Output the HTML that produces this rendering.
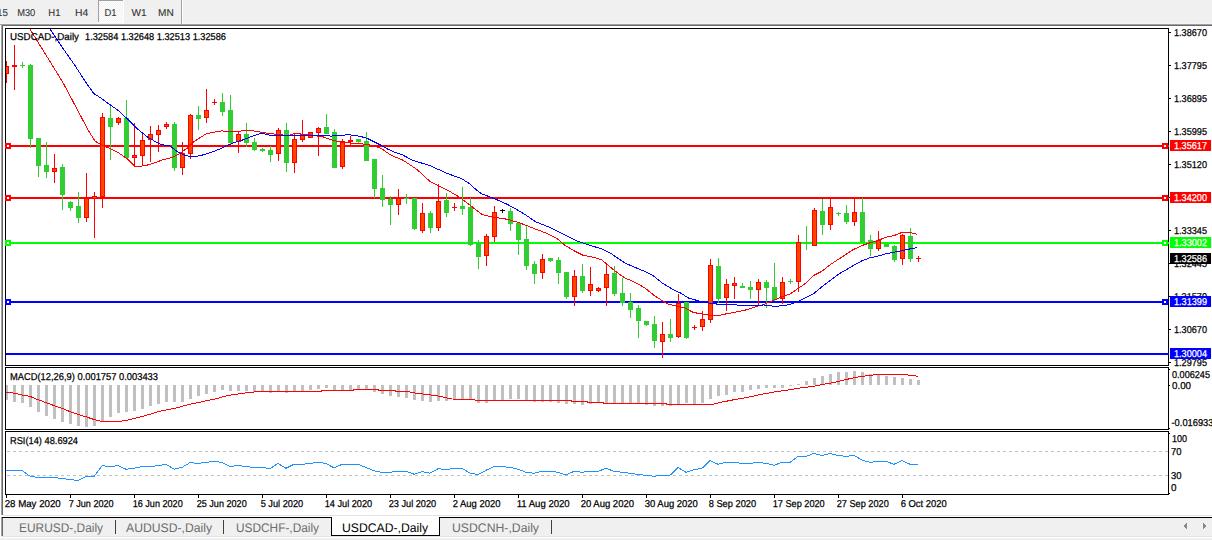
<!DOCTYPE html>
<html><head><meta charset="utf-8"><title>USDCAD Daily</title><style>
html,body{margin:0;padding:0;width:1212px;height:540px;overflow:hidden;background:#fff}
svg{display:block}
text{font-family:"Liberation Sans",sans-serif;text-rendering:geometricPrecision}
</style></head><body>
<svg width="1212" height="540" viewBox="0 0 1212 540" shape-rendering="crispEdges">
<rect x="0" y="0" width="1212" height="24" fill="#f0f0f0"/>
<rect x="0" y="23" width="1212" height="1" fill="#f4f4f4"/>
<rect x="0" y="24" width="1212" height="1" fill="#a0a0a0"/>
<rect x="1" y="25" width="1211" height="1" fill="#696969"/>
<rect x="181" y="0" width="1" height="24" fill="#a0a0a0"/>
<rect x="182" y="0" width="1" height="24" fill="#ffffff"/>
<defs><pattern id="dith" width="2" height="2" patternUnits="userSpaceOnUse"><rect width="2" height="2" fill="#f0f0f0"/><rect width="1" height="1" fill="#ffffff"/><rect x="1" y="1" width="1" height="1" fill="#ffffff"/></pattern></defs>
<rect x="99" y="1" width="24" height="21" fill="url(#dith)"/>
<rect x="98" y="0" width="25" height="1" fill="#a0a0a0"/>
<rect x="98" y="0" width="1" height="22" fill="#a0a0a0"/>
<rect x="123" y="0" width="1" height="23" fill="#ffffff"/>
<rect x="98" y="22" width="26" height="1" fill="#ffffff"/>
<text x="-3.0" y="16" font-size="10" fill="#333" textLength="10.9" lengthAdjust="spacingAndGlyphs" stroke="#333" stroke-width="0.1">15</text>
<text x="17.2" y="16" font-size="10" fill="#333" textLength="18.1" lengthAdjust="spacingAndGlyphs" stroke="#333" stroke-width="0.1">M30</text>
<text x="48.3" y="16" font-size="10" fill="#333" textLength="12.2" lengthAdjust="spacingAndGlyphs" stroke="#333" stroke-width="0.1">H1</text>
<text x="75.0" y="16" font-size="10" fill="#333" textLength="13.3" lengthAdjust="spacingAndGlyphs" stroke="#333" stroke-width="0.1">H4</text>
<text x="104.4" y="16" font-size="10" fill="#333" textLength="12.1" lengthAdjust="spacingAndGlyphs" stroke="#333" stroke-width="0.1">D1</text>
<text x="131.4" y="16" font-size="10" fill="#333" textLength="15.1" lengthAdjust="spacingAndGlyphs" stroke="#333" stroke-width="0.1">W1</text>
<text x="158.1" y="16" font-size="10" fill="#333" textLength="15.7" lengthAdjust="spacingAndGlyphs" stroke="#333" stroke-width="0.1">MN</text>
<rect x="0" y="25" width="1" height="490" fill="#ffffff"/>
<rect x="1" y="25" width="1" height="490" fill="#a0a0a0"/>
<rect x="2" y="26" width="1" height="489" fill="#696969"/>
<clipPath id="cm"><rect x="6" y="29" width="1162" height="336"/></clipPath>
<clipPath id="cmacd"><rect x="6" y="368" width="1162" height="61"/></clipPath>
<clipPath id="crsi"><rect x="6" y="432" width="1162" height="62"/></clipPath>
<g clip-path="url(#cm)">
<rect x="6" y="145" width="1162" height="2" fill="#ff0000"/>
<rect x="6" y="197" width="1162" height="2" fill="#ff0000"/>
<rect x="6" y="242" width="1162" height="2" fill="#00ff00"/>
<rect x="6" y="301" width="1162" height="2" fill="#0000ff"/>
<rect x="6" y="353" width="1162" height="2" fill="#0000ff"/>
</g>
<g clip-path="url(#cm)">
<rect x="6" y="61" width="1" height="22" fill="#ff0000"/>
<rect x="4" y="66" width="5" height="8" fill="#ff0000"/>
<rect x="5" y="67" width="3" height="6" fill="#ff4500"/>
<rect x="14" y="45" width="1" height="45" fill="#ff0000"/>
<rect x="12" y="65" width="5" height="2" fill="#ff0000"/>
<rect x="22" y="62" width="1" height="6" fill="#32cd32"/>
<rect x="20" y="65" width="5" height="1" fill="#32cd32"/>
<rect x="30" y="64" width="1" height="84" fill="#32cd32"/>
<rect x="28" y="65" width="5" height="74" fill="#32cd32"/>
<rect x="38" y="138" width="1" height="39" fill="#32cd32"/>
<rect x="36" y="138" width="5" height="28" fill="#32cd32"/>
<rect x="46" y="142" width="1" height="36" fill="#32cd32"/>
<rect x="44" y="165" width="5" height="7" fill="#32cd32"/>
<rect x="54" y="154" width="1" height="29" fill="#ff0000"/>
<rect x="52" y="168" width="5" height="4" fill="#ff0000"/>
<rect x="53" y="169" width="3" height="2" fill="#ff4500"/>
<rect x="62" y="164" width="1" height="46" fill="#32cd32"/>
<rect x="60" y="167" width="5" height="28" fill="#32cd32"/>
<rect x="70" y="201" width="1" height="10" fill="#32cd32"/>
<rect x="68" y="202" width="5" height="6" fill="#32cd32"/>
<rect x="78" y="192" width="1" height="31" fill="#32cd32"/>
<rect x="76" y="206" width="5" height="12" fill="#32cd32"/>
<rect x="86" y="173" width="1" height="49" fill="#ff0000"/>
<rect x="84" y="198" width="5" height="20" fill="#ff0000"/>
<rect x="85" y="199" width="3" height="18" fill="#ff4500"/>
<rect x="94" y="192" width="1" height="46" fill="#ff0000"/>
<rect x="92" y="196" width="5" height="3" fill="#ff0000"/>
<rect x="93" y="197" width="3" height="1" fill="#ff4500"/>
<rect x="102" y="113" width="1" height="95" fill="#ff0000"/>
<rect x="100" y="117" width="5" height="80" fill="#ff0000"/>
<rect x="101" y="118" width="3" height="78" fill="#ff4500"/>
<rect x="110" y="106" width="1" height="54" fill="#32cd32"/>
<rect x="108" y="118" width="5" height="9" fill="#32cd32"/>
<rect x="118" y="117" width="1" height="8" fill="#ff0000"/>
<rect x="116" y="118" width="5" height="5" fill="#ff0000"/>
<rect x="117" y="119" width="3" height="3" fill="#ff4500"/>
<rect x="126" y="100" width="1" height="59" fill="#32cd32"/>
<rect x="124" y="118" width="5" height="40" fill="#32cd32"/>
<rect x="134" y="123" width="1" height="44" fill="#ff0000"/>
<rect x="132" y="155" width="5" height="3" fill="#ff0000"/>
<rect x="133" y="156" width="3" height="1" fill="#ff4500"/>
<rect x="142" y="134" width="1" height="32" fill="#ff0000"/>
<rect x="140" y="140" width="5" height="16" fill="#ff0000"/>
<rect x="141" y="141" width="3" height="14" fill="#ff4500"/>
<rect x="150" y="126" width="1" height="36" fill="#ff0000"/>
<rect x="148" y="134" width="5" height="6" fill="#ff0000"/>
<rect x="149" y="135" width="3" height="4" fill="#ff4500"/>
<rect x="158" y="125" width="1" height="27" fill="#ff0000"/>
<rect x="156" y="130" width="5" height="5" fill="#ff0000"/>
<rect x="157" y="131" width="3" height="3" fill="#ff4500"/>
<rect x="166" y="122" width="1" height="7" fill="#ff0000"/>
<rect x="164" y="124" width="5" height="3" fill="#ff0000"/>
<rect x="165" y="125" width="3" height="1" fill="#ff4500"/>
<rect x="174" y="122" width="1" height="49" fill="#32cd32"/>
<rect x="172" y="124" width="5" height="44" fill="#32cd32"/>
<rect x="182" y="142" width="1" height="33" fill="#ff0000"/>
<rect x="180" y="153" width="5" height="15" fill="#ff0000"/>
<rect x="181" y="154" width="3" height="13" fill="#ff4500"/>
<rect x="190" y="114" width="1" height="45" fill="#ff0000"/>
<rect x="188" y="115" width="5" height="39" fill="#ff0000"/>
<rect x="189" y="116" width="3" height="37" fill="#ff4500"/>
<rect x="198" y="106" width="1" height="24" fill="#32cd32"/>
<rect x="196" y="115" width="5" height="4" fill="#32cd32"/>
<rect x="206" y="89" width="1" height="34" fill="#ff0000"/>
<rect x="204" y="110" width="5" height="8" fill="#ff0000"/>
<rect x="205" y="111" width="3" height="6" fill="#ff4500"/>
<rect x="214" y="99" width="1" height="6" fill="#ff0000"/>
<rect x="212" y="102" width="5" height="1" fill="#ff0000"/>
<rect x="222" y="93" width="1" height="23" fill="#32cd32"/>
<rect x="220" y="102" width="5" height="10" fill="#32cd32"/>
<rect x="230" y="95" width="1" height="50" fill="#32cd32"/>
<rect x="228" y="110" width="5" height="33" fill="#32cd32"/>
<rect x="238" y="132" width="1" height="21" fill="#ff0000"/>
<rect x="236" y="134" width="5" height="8" fill="#ff0000"/>
<rect x="237" y="135" width="3" height="6" fill="#ff4500"/>
<rect x="246" y="123" width="1" height="24" fill="#32cd32"/>
<rect x="244" y="134" width="5" height="9" fill="#32cd32"/>
<rect x="254" y="138" width="1" height="13" fill="#32cd32"/>
<rect x="252" y="142" width="5" height="8" fill="#32cd32"/>
<rect x="262" y="148" width="1" height="4" fill="#32cd32"/>
<rect x="260" y="149" width="5" height="2" fill="#32cd32"/>
<rect x="270" y="146" width="1" height="16" fill="#32cd32"/>
<rect x="268" y="150" width="5" height="5" fill="#32cd32"/>
<rect x="278" y="128" width="1" height="33" fill="#ff0000"/>
<rect x="276" y="130" width="5" height="24" fill="#ff0000"/>
<rect x="277" y="131" width="3" height="22" fill="#ff4500"/>
<rect x="286" y="123" width="1" height="49" fill="#32cd32"/>
<rect x="284" y="130" width="5" height="33" fill="#32cd32"/>
<rect x="294" y="134" width="1" height="39" fill="#ff0000"/>
<rect x="292" y="139" width="5" height="24" fill="#ff0000"/>
<rect x="293" y="140" width="3" height="22" fill="#ff4500"/>
<rect x="302" y="120" width="1" height="22" fill="#ff0000"/>
<rect x="300" y="134" width="5" height="6" fill="#ff0000"/>
<rect x="301" y="135" width="3" height="4" fill="#ff4500"/>
<rect x="310" y="132" width="1" height="6" fill="#ff0000"/>
<rect x="308" y="132" width="5" height="6" fill="#ff0000"/>
<rect x="309" y="133" width="3" height="4" fill="#ff4500"/>
<rect x="318" y="127" width="1" height="29" fill="#ff0000"/>
<rect x="316" y="128" width="5" height="5" fill="#ff0000"/>
<rect x="317" y="129" width="3" height="3" fill="#ff4500"/>
<rect x="326" y="114" width="1" height="20" fill="#32cd32"/>
<rect x="324" y="127" width="5" height="7" fill="#32cd32"/>
<rect x="334" y="129" width="1" height="39" fill="#32cd32"/>
<rect x="332" y="132" width="5" height="36" fill="#32cd32"/>
<rect x="342" y="139" width="1" height="30" fill="#ff0000"/>
<rect x="340" y="141" width="5" height="26" fill="#ff0000"/>
<rect x="341" y="142" width="3" height="24" fill="#ff4500"/>
<rect x="350" y="136" width="1" height="9" fill="#ff0000"/>
<rect x="348" y="140" width="5" height="2" fill="#ff0000"/>
<rect x="358" y="139" width="1" height="5" fill="#32cd32"/>
<rect x="356" y="139" width="5" height="3" fill="#32cd32"/>
<rect x="366" y="132" width="1" height="29" fill="#32cd32"/>
<rect x="364" y="141" width="5" height="20" fill="#32cd32"/>
<rect x="374" y="159" width="1" height="39" fill="#32cd32"/>
<rect x="372" y="159" width="5" height="30" fill="#32cd32"/>
<rect x="382" y="175" width="1" height="32" fill="#32cd32"/>
<rect x="380" y="188" width="5" height="12" fill="#32cd32"/>
<rect x="390" y="196" width="1" height="29" fill="#32cd32"/>
<rect x="388" y="199" width="5" height="6" fill="#32cd32"/>
<rect x="398" y="189" width="1" height="26" fill="#ff0000"/>
<rect x="396" y="198" width="5" height="7" fill="#ff0000"/>
<rect x="397" y="199" width="3" height="5" fill="#ff4500"/>
<rect x="406" y="194" width="1" height="10" fill="#32cd32"/>
<rect x="404" y="198" width="5" height="1" fill="#32cd32"/>
<rect x="414" y="198" width="1" height="32" fill="#32cd32"/>
<rect x="412" y="198" width="5" height="31" fill="#32cd32"/>
<rect x="422" y="203" width="1" height="30" fill="#ff0000"/>
<rect x="420" y="213" width="5" height="18" fill="#ff0000"/>
<rect x="421" y="214" width="3" height="16" fill="#ff4500"/>
<rect x="430" y="211" width="1" height="22" fill="#32cd32"/>
<rect x="428" y="213" width="5" height="15" fill="#32cd32"/>
<rect x="438" y="184" width="1" height="47" fill="#ff0000"/>
<rect x="436" y="201" width="5" height="27" fill="#ff0000"/>
<rect x="437" y="202" width="3" height="25" fill="#ff4500"/>
<rect x="446" y="193" width="1" height="24" fill="#32cd32"/>
<rect x="444" y="200" width="5" height="13" fill="#32cd32"/>
<rect x="454" y="203" width="1" height="8" fill="#ff0000"/>
<rect x="452" y="207" width="5" height="1" fill="#ff0000"/>
<rect x="462" y="187" width="1" height="28" fill="#32cd32"/>
<rect x="460" y="206" width="5" height="3" fill="#32cd32"/>
<rect x="470" y="198" width="1" height="48" fill="#32cd32"/>
<rect x="468" y="207" width="5" height="38" fill="#32cd32"/>
<rect x="478" y="240" width="1" height="29" fill="#32cd32"/>
<rect x="476" y="243" width="5" height="14" fill="#32cd32"/>
<rect x="486" y="234" width="1" height="32" fill="#ff0000"/>
<rect x="484" y="236" width="5" height="20" fill="#ff0000"/>
<rect x="485" y="237" width="3" height="18" fill="#ff4500"/>
<rect x="494" y="206" width="1" height="36" fill="#ff0000"/>
<rect x="492" y="212" width="5" height="25" fill="#ff0000"/>
<rect x="493" y="213" width="3" height="23" fill="#ff4500"/>
<rect x="502" y="209" width="1" height="4" fill="#000"/>
<rect x="500" y="210" width="5" height="1" fill="#000"/>
<rect x="510" y="208" width="1" height="23" fill="#32cd32"/>
<rect x="508" y="211" width="5" height="13" fill="#32cd32"/>
<rect x="518" y="222" width="1" height="33" fill="#32cd32"/>
<rect x="516" y="223" width="5" height="17" fill="#32cd32"/>
<rect x="526" y="225" width="1" height="45" fill="#32cd32"/>
<rect x="524" y="239" width="5" height="27" fill="#32cd32"/>
<rect x="534" y="261" width="1" height="23" fill="#32cd32"/>
<rect x="532" y="264" width="5" height="10" fill="#32cd32"/>
<rect x="542" y="254" width="1" height="25" fill="#ff0000"/>
<rect x="540" y="259" width="5" height="14" fill="#ff0000"/>
<rect x="541" y="260" width="3" height="12" fill="#ff4500"/>
<rect x="550" y="258" width="1" height="4" fill="#32cd32"/>
<rect x="548" y="258" width="5" height="3" fill="#32cd32"/>
<rect x="558" y="257" width="1" height="27" fill="#32cd32"/>
<rect x="556" y="260" width="5" height="13" fill="#32cd32"/>
<rect x="566" y="272" width="1" height="27" fill="#32cd32"/>
<rect x="564" y="272" width="5" height="25" fill="#32cd32"/>
<rect x="574" y="270" width="1" height="36" fill="#ff0000"/>
<rect x="572" y="276" width="5" height="21" fill="#ff0000"/>
<rect x="573" y="277" width="3" height="19" fill="#ff4500"/>
<rect x="582" y="264" width="1" height="29" fill="#32cd32"/>
<rect x="580" y="276" width="5" height="15" fill="#32cd32"/>
<rect x="590" y="267" width="1" height="29" fill="#ff0000"/>
<rect x="588" y="284" width="5" height="7" fill="#ff0000"/>
<rect x="589" y="285" width="3" height="5" fill="#ff4500"/>
<rect x="598" y="287" width="1" height="5" fill="#ff0000"/>
<rect x="596" y="288" width="5" height="3" fill="#ff0000"/>
<rect x="597" y="289" width="3" height="1" fill="#ff4500"/>
<rect x="606" y="265" width="1" height="41" fill="#ff0000"/>
<rect x="604" y="274" width="5" height="14" fill="#ff0000"/>
<rect x="605" y="275" width="3" height="12" fill="#ff4500"/>
<rect x="614" y="266" width="1" height="30" fill="#32cd32"/>
<rect x="612" y="273" width="5" height="21" fill="#32cd32"/>
<rect x="622" y="278" width="1" height="28" fill="#32cd32"/>
<rect x="620" y="293" width="5" height="10" fill="#32cd32"/>
<rect x="630" y="293" width="1" height="25" fill="#32cd32"/>
<rect x="628" y="302" width="5" height="8" fill="#32cd32"/>
<rect x="638" y="305" width="1" height="33" fill="#32cd32"/>
<rect x="636" y="308" width="5" height="13" fill="#32cd32"/>
<rect x="646" y="321" width="1" height="5" fill="#32cd32"/>
<rect x="644" y="321" width="5" height="4" fill="#32cd32"/>
<rect x="654" y="316" width="1" height="32" fill="#32cd32"/>
<rect x="652" y="324" width="5" height="17" fill="#32cd32"/>
<rect x="662" y="322" width="1" height="36" fill="#ff0000"/>
<rect x="660" y="334" width="5" height="8" fill="#ff0000"/>
<rect x="661" y="335" width="3" height="6" fill="#ff4500"/>
<rect x="670" y="319" width="1" height="23" fill="#32cd32"/>
<rect x="668" y="334" width="5" height="4" fill="#32cd32"/>
<rect x="678" y="294" width="1" height="44" fill="#ff0000"/>
<rect x="676" y="303" width="5" height="34" fill="#ff0000"/>
<rect x="677" y="304" width="3" height="32" fill="#ff4500"/>
<rect x="686" y="302" width="1" height="37" fill="#32cd32"/>
<rect x="684" y="302" width="5" height="36" fill="#32cd32"/>
<rect x="694" y="325" width="1" height="5" fill="#ff0000"/>
<rect x="692" y="327" width="5" height="1" fill="#ff0000"/>
<rect x="702" y="311" width="1" height="20" fill="#ff0000"/>
<rect x="700" y="319" width="5" height="8" fill="#ff0000"/>
<rect x="701" y="320" width="3" height="6" fill="#ff4500"/>
<rect x="710" y="259" width="1" height="64" fill="#ff0000"/>
<rect x="708" y="265" width="5" height="55" fill="#ff0000"/>
<rect x="709" y="266" width="3" height="53" fill="#ff4500"/>
<rect x="718" y="258" width="1" height="45" fill="#32cd32"/>
<rect x="716" y="266" width="5" height="33" fill="#32cd32"/>
<rect x="726" y="279" width="1" height="32" fill="#ff0000"/>
<rect x="724" y="284" width="5" height="14" fill="#ff0000"/>
<rect x="725" y="285" width="3" height="12" fill="#ff4500"/>
<rect x="734" y="277" width="1" height="22" fill="#ff0000"/>
<rect x="732" y="283" width="5" height="3" fill="#ff0000"/>
<rect x="733" y="284" width="3" height="1" fill="#ff4500"/>
<rect x="742" y="283" width="1" height="5" fill="#32cd32"/>
<rect x="740" y="286" width="5" height="2" fill="#32cd32"/>
<rect x="750" y="281" width="1" height="18" fill="#32cd32"/>
<rect x="748" y="287" width="5" height="3" fill="#32cd32"/>
<rect x="758" y="279" width="1" height="26" fill="#ff0000"/>
<rect x="756" y="282" width="5" height="8" fill="#ff0000"/>
<rect x="757" y="283" width="3" height="6" fill="#ff4500"/>
<rect x="766" y="280" width="1" height="28" fill="#32cd32"/>
<rect x="764" y="282" width="5" height="6" fill="#32cd32"/>
<rect x="774" y="263" width="1" height="38" fill="#32cd32"/>
<rect x="772" y="287" width="5" height="13" fill="#32cd32"/>
<rect x="782" y="277" width="1" height="27" fill="#ff0000"/>
<rect x="780" y="282" width="5" height="17" fill="#ff0000"/>
<rect x="781" y="283" width="3" height="15" fill="#ff4500"/>
<rect x="790" y="279" width="1" height="5" fill="#32cd32"/>
<rect x="788" y="281" width="5" height="1" fill="#32cd32"/>
<rect x="798" y="235" width="1" height="57" fill="#ff0000"/>
<rect x="796" y="242" width="5" height="40" fill="#ff0000"/>
<rect x="797" y="243" width="3" height="38" fill="#ff4500"/>
<rect x="806" y="226" width="1" height="24" fill="#32cd32"/>
<rect x="804" y="243" width="5" height="1" fill="#32cd32"/>
<rect x="814" y="208" width="1" height="38" fill="#ff0000"/>
<rect x="812" y="210" width="5" height="36" fill="#ff0000"/>
<rect x="813" y="211" width="3" height="34" fill="#ff4500"/>
<rect x="822" y="199" width="1" height="36" fill="#32cd32"/>
<rect x="820" y="211" width="5" height="14" fill="#32cd32"/>
<rect x="830" y="198" width="1" height="32" fill="#ff0000"/>
<rect x="828" y="207" width="5" height="18" fill="#ff0000"/>
<rect x="829" y="208" width="3" height="16" fill="#ff4500"/>
<rect x="838" y="212" width="1" height="4" fill="#32cd32"/>
<rect x="836" y="213" width="5" height="1" fill="#32cd32"/>
<rect x="846" y="205" width="1" height="19" fill="#32cd32"/>
<rect x="844" y="213" width="5" height="9" fill="#32cd32"/>
<rect x="854" y="198" width="1" height="28" fill="#ff0000"/>
<rect x="852" y="212" width="5" height="10" fill="#ff0000"/>
<rect x="853" y="213" width="3" height="8" fill="#ff4500"/>
<rect x="862" y="198" width="1" height="44" fill="#32cd32"/>
<rect x="860" y="212" width="5" height="30" fill="#32cd32"/>
<rect x="870" y="235" width="1" height="21" fill="#32cd32"/>
<rect x="868" y="240" width="5" height="9" fill="#32cd32"/>
<rect x="878" y="231" width="1" height="20" fill="#ff0000"/>
<rect x="876" y="240" width="5" height="9" fill="#ff0000"/>
<rect x="877" y="241" width="3" height="7" fill="#ff4500"/>
<rect x="886" y="243" width="1" height="4" fill="#32cd32"/>
<rect x="884" y="244" width="5" height="3" fill="#32cd32"/>
<rect x="894" y="245" width="1" height="17" fill="#32cd32"/>
<rect x="892" y="246" width="5" height="14" fill="#32cd32"/>
<rect x="902" y="234" width="1" height="31" fill="#ff0000"/>
<rect x="900" y="235" width="5" height="24" fill="#ff0000"/>
<rect x="901" y="236" width="3" height="22" fill="#ff4500"/>
<rect x="910" y="228" width="1" height="34" fill="#32cd32"/>
<rect x="908" y="236" width="5" height="23" fill="#32cd32"/>
<rect x="918" y="256" width="1" height="6" fill="#ff0000"/>
<rect x="916" y="258" width="5" height="1" fill="#ff0000"/>
</g>
<polyline clip-path="url(#cm)" points="25.0,20.0 29.3,28.0 63.1,82.8 88.1,130.0 95.0,141.1 100.5,144.4 109.8,148.5 119.0,153.1 128.3,159.6 134.8,166.1 141.3,166.1 148.7,164.8 156.0,162.4 162.0,160.0 171.3,157.8 180.5,153.1 187.9,147.6 193.5,142.0 199.0,138.3 206.4,133.7 213.9,132.2 221.3,130.9 228.7,131.5 236.0,131.5 242.0,130.9 249.4,130.0 256.8,131.5 264.2,132.8 271.6,133.7 279.0,134.6 288.3,135.6 293.9,133.7 301.3,134.0 308.7,134.6 316.0,135.9 322.0,136.5 331.3,139.8 340.5,142.2 349.8,143.0 359.0,143.5 366.4,144.4 373.9,145.9 381.3,148.5 388.7,153.7 396.0,157.4 402.0,159.6 416.8,169.3 429.8,181.3 439.0,185.9 448.3,190.6 457.6,196.1 466.8,202.6 474.2,208.5 482.0,214.3 488.8,216.3 498.0,217.8 507.3,219.3 516.6,221.9 525.9,225.2 535.1,228.9 546.0,233.0 557.1,238.5 564.5,245.0 573.8,250.6 583.0,255.2 592.3,257.0 601.6,259.8 607.1,264.4 612.7,269.1 620.1,274.6 626.0,278.9 629.1,279.4 638.4,284.1 645.8,288.7 655.0,296.1 662.4,300.7 668.0,304.1 673.6,305.4 684.7,307.8 692.1,311.9 698.0,313.4 708.5,315.0 717.8,315.6 727.0,313.7 736.3,311.9 745.6,310.0 754.8,307.0 764.1,304.4 777.6,298.6 785.3,295.4 789.9,294.1 798.3,288.3 806.1,283.0 813.9,275.3 821.7,271.4 829.4,265.3 834.6,261.7 842.0,257.1 852.9,249.8 862.3,245.4 870.2,242.8 878.1,240.4 886.0,237.2 893.8,235.7 901.7,232.5 909.6,232.5 917.5,234.4" fill="none" stroke="#ff0000" stroke-width="1"/>
<polyline clip-path="url(#cm)" points="44.0,20.0 49.4,28.0 61.7,46.5 74.6,65.0 86.7,83.6 94.0,93.7 101.5,98.4 108.9,104.0 117.2,109.6 128.3,119.8 137.6,129.0 146.8,136.5 156.0,142.0 162.0,144.8 169.4,145.7 176.8,151.3 184.2,155.0 191.6,156.9 199.0,155.9 206.4,154.0 213.9,151.3 221.3,148.5 228.7,144.8 236.0,142.0 242.0,140.2 249.4,137.4 256.8,134.6 262.4,133.3 269.8,135.2 279.0,135.2 290.1,135.6 301.3,135.2 316.0,135.2 322.0,135.2 331.3,136.1 340.5,135.2 349.8,134.8 359.0,136.1 366.4,138.0 373.9,141.7 381.3,145.4 388.7,149.6 396.0,152.8 402.0,154.6 412.0,160.0 429.8,165.6 448.3,173.9 461.3,178.5 468.7,183.1 476.0,189.6 482.0,194.0 488.8,196.5 498.0,200.2 507.3,204.4 516.6,209.4 525.9,215.0 535.1,221.5 544.4,225.2 554.0,229.3 568.2,236.7 579.3,241.9 590.4,245.6 601.6,248.7 610.8,253.3 620.1,259.8 626.0,263.5 632.8,266.5 643.9,271.1 653.2,275.7 662.4,283.1 671.7,288.7 681.0,293.3 688.4,298.0 698.0,300.7 708.5,303.0 719.6,304.4 730.7,304.8 741.9,305.2 753.0,305.2 764.1,305.0 775.0,306.4 785.3,305.5 793.0,303.4 799.6,300.8 807.4,297.0 813.9,293.4 821.7,287.0 829.4,281.1 837.2,275.3 842.0,272.0 846.6,269.5 854.5,264.8 862.3,260.6 870.2,257.7 878.1,256.1 886.0,253.8 893.8,252.2 901.7,250.6 909.6,249.0 917.5,247.5" fill="none" stroke="#0000ff" stroke-width="1"/>
<rect x="5" y="28" width="1164" height="1" fill="#000"/>
<rect x="5" y="365" width="1164" height="1" fill="#000"/>
<rect x="5" y="28" width="1" height="338" fill="#000"/>
<rect x="1168" y="28" width="1" height="338" fill="#000"/>
<rect x="5" y="367" width="1164" height="1" fill="#000"/>
<rect x="5" y="429" width="1164" height="1" fill="#000"/>
<rect x="5" y="367" width="1" height="63" fill="#000"/>
<rect x="1168" y="367" width="1" height="63" fill="#000"/>
<rect x="5" y="431" width="1164" height="1" fill="#000"/>
<rect x="5" y="494" width="1164" height="1" fill="#000"/>
<rect x="5" y="431" width="1" height="64" fill="#000"/>
<rect x="1168" y="431" width="1" height="64" fill="#000"/>
<rect x="1168" y="145" width="1" height="2" fill="#ff0000"/>
<rect x="5" y="143" width="6" height="6" fill="#ff0000"/>
<rect x="7" y="145" width="2" height="2" fill="#ffffff"/>
<rect x="1162" y="143" width="6" height="6" fill="#ff0000"/>
<rect x="1164" y="145" width="2" height="2" fill="#ffffff"/>
<rect x="1168" y="197" width="1" height="2" fill="#ff0000"/>
<rect x="5" y="195" width="6" height="6" fill="#ff0000"/>
<rect x="7" y="197" width="2" height="2" fill="#ffffff"/>
<rect x="1162" y="195" width="6" height="6" fill="#ff0000"/>
<rect x="1164" y="197" width="2" height="2" fill="#ffffff"/>
<rect x="1168" y="242" width="1" height="2" fill="#00ff00"/>
<rect x="5" y="240" width="6" height="6" fill="#00ff00"/>
<rect x="7" y="242" width="2" height="2" fill="#ffffff"/>
<rect x="1162" y="240" width="6" height="6" fill="#00ff00"/>
<rect x="1164" y="242" width="2" height="2" fill="#ffffff"/>
<rect x="1168" y="301" width="1" height="2" fill="#0000ff"/>
<rect x="5" y="299" width="6" height="6" fill="#0000ff"/>
<rect x="7" y="301" width="2" height="2" fill="#ffffff"/>
<rect x="1162" y="299" width="6" height="6" fill="#0000ff"/>
<rect x="1164" y="301" width="2" height="2" fill="#ffffff"/>
<rect x="1168" y="353" width="1" height="2" fill="#0000ff"/>
<rect x="1169" y="32" width="2" height="1" fill="#000"/>
<text x="1174" y="36" font-size="10" fill="#000" textLength="33" lengthAdjust="spacingAndGlyphs" stroke="#000" stroke-width="0.25">1.38670</text>
<rect x="1169" y="65" width="2" height="1" fill="#000"/>
<text x="1174" y="69" font-size="10" fill="#000" textLength="33" lengthAdjust="spacingAndGlyphs" stroke="#000" stroke-width="0.25">1.37795</text>
<rect x="1169" y="98" width="2" height="1" fill="#000"/>
<text x="1174" y="102" font-size="10" fill="#000" textLength="33" lengthAdjust="spacingAndGlyphs" stroke="#000" stroke-width="0.25">1.36895</text>
<rect x="1169" y="131" width="2" height="1" fill="#000"/>
<text x="1174" y="135" font-size="10" fill="#000" textLength="33" lengthAdjust="spacingAndGlyphs" stroke="#000" stroke-width="0.25">1.35995</text>
<rect x="1169" y="164" width="2" height="1" fill="#000"/>
<text x="1174" y="168" font-size="10" fill="#000" textLength="33" lengthAdjust="spacingAndGlyphs" stroke="#000" stroke-width="0.25">1.35120</text>
<rect x="1169" y="197" width="2" height="1" fill="#000"/>
<text x="1174" y="201" font-size="10" fill="#000" textLength="33" lengthAdjust="spacingAndGlyphs" stroke="#000" stroke-width="0.25">1.34220</text>
<rect x="1169" y="230" width="2" height="1" fill="#000"/>
<text x="1174" y="234" font-size="10" fill="#000" textLength="33" lengthAdjust="spacingAndGlyphs" stroke="#000" stroke-width="0.25">1.33345</text>
<rect x="1169" y="263" width="2" height="1" fill="#000"/>
<text x="1174" y="267" font-size="10" fill="#000" textLength="33" lengthAdjust="spacingAndGlyphs" stroke="#000" stroke-width="0.25">1.32445</text>
<rect x="1169" y="296" width="2" height="1" fill="#000"/>
<text x="1174" y="300" font-size="10" fill="#000" textLength="33" lengthAdjust="spacingAndGlyphs" stroke="#000" stroke-width="0.25">1.31570</text>
<rect x="1169" y="329" width="2" height="1" fill="#000"/>
<text x="1174" y="333" font-size="10" fill="#000" textLength="33" lengthAdjust="spacingAndGlyphs" stroke="#000" stroke-width="0.25">1.30670</text>
<rect x="1169" y="362" width="2" height="1" fill="#000"/>
<text x="1174" y="366" font-size="10" fill="#000" textLength="33" lengthAdjust="spacingAndGlyphs" stroke="#000" stroke-width="0.25">1.29795</text>
<rect x="1170" y="140" width="41" height="11" fill="#ff0000"/>
<text x="1174" y="149" font-size="10" fill="#fff" textLength="33" lengthAdjust="spacingAndGlyphs" stroke="#fff" stroke-width="0.25">1.35617</text>
<rect x="1170" y="192" width="41" height="11" fill="#ff0000"/>
<text x="1174" y="201" font-size="10" fill="#fff" textLength="33" lengthAdjust="spacingAndGlyphs" stroke="#fff" stroke-width="0.25">1.34200</text>
<rect x="1170" y="237" width="41" height="11" fill="#00ff00"/>
<text x="1174" y="246" font-size="10" fill="#fff" textLength="33" lengthAdjust="spacingAndGlyphs" stroke="#fff" stroke-width="0.25">1.33002</text>
<rect x="1170" y="296" width="41" height="11" fill="#0000ff"/>
<text x="1174" y="305" font-size="10" fill="#fff" textLength="33" lengthAdjust="spacingAndGlyphs" stroke="#fff" stroke-width="0.25">1.31399</text>
<rect x="1170" y="348" width="41" height="11" fill="#0000ff"/>
<text x="1174" y="357" font-size="10" fill="#fff" textLength="33" lengthAdjust="spacingAndGlyphs" stroke="#fff" stroke-width="0.25">1.30004</text>
<rect x="1170" y="253" width="41" height="11" fill="#000000"/>
<text x="1174" y="262" font-size="10" fill="#fff" textLength="33" lengthAdjust="spacingAndGlyphs" stroke="#fff" stroke-width="0.25">1.32586</text>
<g clip-path="url(#cmacd)">
<rect x="5" y="385" width="3" height="15" fill="#c0c0c0"/>
<rect x="13" y="385" width="3" height="17" fill="#c0c0c0"/>
<rect x="21" y="385" width="3" height="18" fill="#c0c0c0"/>
<rect x="29" y="385" width="3" height="22" fill="#c0c0c0"/>
<rect x="37" y="385" width="3" height="27" fill="#c0c0c0"/>
<rect x="45" y="385" width="3" height="31" fill="#c0c0c0"/>
<rect x="53" y="385" width="3" height="34" fill="#c0c0c0"/>
<rect x="61" y="385" width="3" height="37" fill="#c0c0c0"/>
<rect x="69" y="385" width="3" height="39" fill="#c0c0c0"/>
<rect x="77" y="385" width="3" height="41" fill="#c0c0c0"/>
<rect x="85" y="385" width="3" height="42" fill="#c0c0c0"/>
<rect x="93" y="385" width="3" height="41" fill="#c0c0c0"/>
<rect x="101" y="385" width="3" height="37" fill="#c0c0c0"/>
<rect x="109" y="385" width="3" height="32" fill="#c0c0c0"/>
<rect x="117" y="385" width="3" height="28" fill="#c0c0c0"/>
<rect x="125" y="385" width="3" height="27" fill="#c0c0c0"/>
<rect x="133" y="385" width="3" height="26" fill="#c0c0c0"/>
<rect x="141" y="385" width="3" height="24" fill="#c0c0c0"/>
<rect x="149" y="385" width="3" height="21" fill="#c0c0c0"/>
<rect x="157" y="385" width="3" height="19" fill="#c0c0c0"/>
<rect x="165" y="385" width="3" height="17" fill="#c0c0c0"/>
<rect x="173" y="385" width="3" height="17" fill="#c0c0c0"/>
<rect x="181" y="385" width="3" height="17" fill="#c0c0c0"/>
<rect x="189" y="385" width="3" height="14" fill="#c0c0c0"/>
<rect x="197" y="385" width="3" height="11" fill="#c0c0c0"/>
<rect x="205" y="385" width="3" height="9" fill="#c0c0c0"/>
<rect x="213" y="385" width="3" height="7" fill="#c0c0c0"/>
<rect x="221" y="385" width="3" height="5" fill="#c0c0c0"/>
<rect x="229" y="385" width="3" height="6" fill="#c0c0c0"/>
<rect x="237" y="385" width="3" height="6" fill="#c0c0c0"/>
<rect x="245" y="385" width="3" height="6" fill="#c0c0c0"/>
<rect x="253" y="385" width="3" height="7" fill="#c0c0c0"/>
<rect x="261" y="385" width="3" height="7" fill="#c0c0c0"/>
<rect x="269" y="385" width="3" height="8" fill="#c0c0c0"/>
<rect x="277" y="385" width="3" height="6" fill="#c0c0c0"/>
<rect x="285" y="385" width="3" height="8" fill="#c0c0c0"/>
<rect x="293" y="385" width="3" height="7" fill="#c0c0c0"/>
<rect x="301" y="385" width="3" height="6" fill="#c0c0c0"/>
<rect x="309" y="385" width="3" height="5" fill="#c0c0c0"/>
<rect x="317" y="385" width="3" height="4" fill="#c0c0c0"/>
<rect x="325" y="385" width="3" height="3" fill="#c0c0c0"/>
<rect x="333" y="385" width="3" height="5" fill="#c0c0c0"/>
<rect x="341" y="385" width="3" height="5" fill="#c0c0c0"/>
<rect x="349" y="385" width="3" height="5" fill="#c0c0c0"/>
<rect x="357" y="385" width="3" height="4" fill="#c0c0c0"/>
<rect x="365" y="385" width="3" height="4" fill="#c0c0c0"/>
<rect x="373" y="385" width="3" height="7" fill="#c0c0c0"/>
<rect x="381" y="385" width="3" height="9" fill="#c0c0c0"/>
<rect x="389" y="385" width="3" height="11" fill="#c0c0c0"/>
<rect x="397" y="385" width="3" height="12" fill="#c0c0c0"/>
<rect x="405" y="385" width="3" height="13" fill="#c0c0c0"/>
<rect x="413" y="385" width="3" height="15" fill="#c0c0c0"/>
<rect x="421" y="385" width="3" height="16" fill="#c0c0c0"/>
<rect x="429" y="385" width="3" height="17" fill="#c0c0c0"/>
<rect x="437" y="385" width="3" height="16" fill="#c0c0c0"/>
<rect x="445" y="385" width="3" height="16" fill="#c0c0c0"/>
<rect x="453" y="385" width="3" height="15" fill="#c0c0c0"/>
<rect x="461" y="385" width="3" height="14" fill="#c0c0c0"/>
<rect x="469" y="385" width="3" height="15" fill="#c0c0c0"/>
<rect x="477" y="385" width="3" height="18" fill="#c0c0c0"/>
<rect x="485" y="385" width="3" height="18" fill="#c0c0c0"/>
<rect x="493" y="385" width="3" height="15" fill="#c0c0c0"/>
<rect x="501" y="385" width="3" height="15" fill="#c0c0c0"/>
<rect x="509" y="385" width="3" height="14" fill="#c0c0c0"/>
<rect x="517" y="385" width="3" height="14" fill="#c0c0c0"/>
<rect x="525" y="385" width="3" height="15" fill="#c0c0c0"/>
<rect x="533" y="385" width="3" height="17" fill="#c0c0c0"/>
<rect x="541" y="385" width="3" height="17" fill="#c0c0c0"/>
<rect x="549" y="385" width="3" height="17" fill="#c0c0c0"/>
<rect x="557" y="385" width="3" height="18" fill="#c0c0c0"/>
<rect x="565" y="385" width="3" height="19" fill="#c0c0c0"/>
<rect x="573" y="385" width="3" height="19" fill="#c0c0c0"/>
<rect x="581" y="385" width="3" height="20" fill="#c0c0c0"/>
<rect x="589" y="385" width="3" height="19" fill="#c0c0c0"/>
<rect x="597" y="385" width="3" height="18" fill="#c0c0c0"/>
<rect x="605" y="385" width="3" height="18" fill="#c0c0c0"/>
<rect x="613" y="385" width="3" height="18" fill="#c0c0c0"/>
<rect x="621" y="385" width="3" height="18" fill="#c0c0c0"/>
<rect x="629" y="385" width="3" height="18" fill="#c0c0c0"/>
<rect x="637" y="385" width="3" height="19" fill="#c0c0c0"/>
<rect x="645" y="385" width="3" height="20" fill="#c0c0c0"/>
<rect x="653" y="385" width="3" height="21" fill="#c0c0c0"/>
<rect x="661" y="385" width="3" height="21" fill="#c0c0c0"/>
<rect x="669" y="385" width="3" height="21" fill="#c0c0c0"/>
<rect x="677" y="385" width="3" height="19" fill="#c0c0c0"/>
<rect x="685" y="385" width="3" height="18" fill="#c0c0c0"/>
<rect x="693" y="385" width="3" height="19" fill="#c0c0c0"/>
<rect x="701" y="385" width="3" height="18" fill="#c0c0c0"/>
<rect x="709" y="385" width="3" height="14" fill="#c0c0c0"/>
<rect x="717" y="385" width="3" height="11" fill="#c0c0c0"/>
<rect x="725" y="385" width="3" height="10" fill="#c0c0c0"/>
<rect x="733" y="385" width="3" height="7" fill="#c0c0c0"/>
<rect x="741" y="385" width="3" height="7" fill="#c0c0c0"/>
<rect x="749" y="385" width="3" height="5" fill="#c0c0c0"/>
<rect x="757" y="385" width="3" height="4" fill="#c0c0c0"/>
<rect x="765" y="385" width="3" height="3" fill="#c0c0c0"/>
<rect x="773" y="385" width="3" height="3" fill="#c0c0c0"/>
<rect x="781" y="385" width="3" height="3" fill="#c0c0c0"/>
<rect x="789" y="385" width="3" height="1" fill="#c0c0c0"/>
<rect x="797" y="384" width="3" height="1" fill="#c0c0c0"/>
<rect x="805" y="381" width="3" height="4" fill="#c0c0c0"/>
<rect x="813" y="378" width="3" height="7" fill="#c0c0c0"/>
<rect x="821" y="376" width="3" height="9" fill="#c0c0c0"/>
<rect x="829" y="374" width="3" height="11" fill="#c0c0c0"/>
<rect x="837" y="372" width="3" height="13" fill="#c0c0c0"/>
<rect x="845" y="372" width="3" height="13" fill="#c0c0c0"/>
<rect x="853" y="371" width="3" height="14" fill="#c0c0c0"/>
<rect x="861" y="372" width="3" height="13" fill="#c0c0c0"/>
<rect x="869" y="374" width="3" height="11" fill="#c0c0c0"/>
<rect x="877" y="375" width="3" height="10" fill="#c0c0c0"/>
<rect x="885" y="376" width="3" height="9" fill="#c0c0c0"/>
<rect x="893" y="377" width="3" height="8" fill="#c0c0c0"/>
<rect x="901" y="378" width="3" height="7" fill="#c0c0c0"/>
<rect x="909" y="379" width="3" height="6" fill="#c0c0c0"/>
<rect x="917" y="380" width="3" height="5" fill="#c0c0c0"/>
</g>
<polyline clip-path="url(#cmacd)" points="6.0,392.4 14.0,393.1 22.0,395.1 30.0,396.4 38.0,399.7 46.0,402.6 54.0,405.6 62.0,408.3 70.0,411.6 78.0,414.5 86.0,416.8 94.0,419.5 102.0,421.5 110.0,421.5 118.0,421.5 126.0,420.5 134.0,418.4 142.0,416.6 150.0,414.2 158.0,411.6 175.0,408.3 188.0,404.7 202.0,401.7 215.0,399.0 228.0,395.5 241.0,393.5 250.0,392.5 258.0,391.5 321.0,391.5 322.0,390.5 353.0,390.5 354.0,389.5 378.0,389.5 379.0,390.5 395.0,390.5 396.0,391.5 409.0,391.5 411.0,392.5 418.0,393.5 428.0,394.5 438.0,396.0 445.0,397.5 452.0,399.0 474.0,399.5 476.0,400.3 571.0,400.3 571.0,401.3 587.0,401.3 587.0,402.3 603.0,402.3 603.0,403.4 666.0,403.4 666.0,404.3 713.0,404.3 721.0,402.3 734.0,399.7 748.0,397.3 761.0,394.4 774.0,392.0 787.0,390.2 798.0,388.4 803.0,387.4 809.0,386.9 816.0,385.8 822.0,384.5 829.0,383.4 836.0,382.1 842.0,380.5 849.0,378.9 855.0,377.6 862.0,376.3 870.0,375.5 875.0,374.6 907.0,374.6 908.0,375.2 914.0,375.2 918.0,376.6" fill="none" stroke="#ff0000" stroke-width="1"/>
<rect x="1169" y="369" width="1" height="1" fill="#000"/>
<rect x="1169" y="385" width="1" height="1" fill="#000"/>
<rect x="1169" y="428" width="1" height="1" fill="#000"/>
<text x="1172" y="378" font-size="10" fill="#000" textLength="38" lengthAdjust="spacingAndGlyphs" stroke="#000" stroke-width="0.25">0.006245</text>
<text x="1172" y="389" font-size="10" fill="#000" textLength="19" lengthAdjust="spacingAndGlyphs" stroke="#000" stroke-width="0.25">0.00</text>
<text x="1171.5" y="426" font-size="10" fill="#000" textLength="42" lengthAdjust="spacingAndGlyphs" stroke="#000" stroke-width="0.25">-0.016933</text>
<line x1="7" y1="451.5" x2="1168" y2="451.5" stroke="#c0c0c0" stroke-width="1" stroke-dasharray="3,3"/>
<line x1="7" y1="475.5" x2="1168" y2="475.5" stroke="#c0c0c0" stroke-width="1" stroke-dasharray="3,3"/>
<polyline clip-path="url(#crsi)" points="6.0,470.5 14.0,470.5 22.0,470.5 30.0,476.2 38.0,477.5 46.0,477.5 54.0,477.5 62.0,478.5 70.0,479.5 78.0,480.6 86.0,476.6 94.0,476.6 102.0,465.7 110.0,466.6 118.0,465.7 126.0,469.2 134.0,468.3 142.0,466.6 150.0,466.6 158.0,465.7 166.0,464.3 174.0,469.2 182.0,467.4 190.0,462.6 198.0,463.4 206.0,462.4 214.0,461.3 222.0,462.4 230.0,466.6 238.0,465.3 246.0,466.6 254.0,467.4 262.0,467.4 270.0,468.7 278.0,463.4 286.0,468.3 294.0,464.3 302.0,464.3 310.0,463.4 318.0,462.4 326.0,463.4 334.0,467.9 342.0,464.3 350.0,464.3 358.0,464.3 366.0,467.4 374.0,470.9 382.0,472.3 390.0,472.3 398.0,471.3 406.0,471.3 414.0,474.2 422.0,471.6 430.0,473.2 438.0,468.7 446.0,469.6 454.0,468.3 462.0,468.3 470.0,473.2 478.0,474.5 486.0,470.3 494.0,466.6 502.0,466.6 510.0,467.4 518.0,469.2 526.0,472.3 534.0,473.2 542.0,471.3 550.0,471.3 558.0,472.3 566.0,474.9 574.0,471.3 582.0,472.3 590.0,471.3 598.0,471.3 606.0,468.3 614.0,471.3 622.0,472.3 630.0,473.2 638.0,474.5 646.0,475.3 654.0,476.2 662.0,475.3 670.0,475.3 678.0,467.4 686.0,472.3 694.0,469.6 702.0,468.3 710.0,460.4 718.0,464.3 726.0,462.4 734.0,462.4 742.0,463.4 750.0,463.4 758.0,462.4 766.0,463.4 774.0,465.3 782.0,462.4 790.0,462.4 798.0,456.4 806.0,456.4 814.0,453.4 822.0,455.5 830.0,453.4 838.0,455.5 846.0,456.4 854.0,455.5 862.0,460.0 870.0,462.4 878.0,461.3 886.0,461.3 894.0,464.3 902.0,460.4 910.0,464.3 918.0,464.3" fill="none" stroke="#1e90ff" stroke-width="1"/>
<rect x="1169" y="433" width="1" height="1" fill="#000"/>
<rect x="1169" y="493" width="1" height="1" fill="#000"/>
<text x="1172" y="442" font-size="10" fill="#000" textLength="15" lengthAdjust="spacingAndGlyphs" stroke="#000" stroke-width="0.25">100</text>
<text x="1171" y="455" font-size="10" fill="#000" textLength="10.5" lengthAdjust="spacingAndGlyphs" stroke="#000" stroke-width="0.25">70</text>
<text x="1171" y="479" font-size="10" fill="#000" textLength="10.5" lengthAdjust="spacingAndGlyphs" stroke="#000" stroke-width="0.25">30</text>
<text x="1171" y="491" font-size="10" fill="#000" textLength="5.5" lengthAdjust="spacingAndGlyphs" stroke="#000" stroke-width="0.25">0</text>
<text x="10" y="40" font-size="10" fill="#000" textLength="69" lengthAdjust="spacingAndGlyphs" stroke="#000" stroke-width="0.25">USDCAD-,Daily</text>
<text x="85" y="40" font-size="10" fill="#000" textLength="141" lengthAdjust="spacingAndGlyphs" stroke="#000" stroke-width="0.25">1.32584 1.32648 1.32513 1.32586</text>
<text x="10" y="380" font-size="10" fill="#000" textLength="148" lengthAdjust="spacingAndGlyphs" stroke="#000" stroke-width="0.25">MACD(12,26,9) 0.001757 0.003433</text>
<text x="10" y="444" font-size="10" fill="#000" textLength="68" lengthAdjust="spacingAndGlyphs" stroke="#000" stroke-width="0.25">RSI(14) 48.6924</text>
<rect x="6" y="495" width="1" height="3" fill="#000"/>
<text x="4.7" y="507" font-size="10" fill="#000" textLength="56" lengthAdjust="spacingAndGlyphs" stroke="#000" stroke-width="0.25">28 May 2020</text>
<rect x="70" y="495" width="1" height="3" fill="#000"/>
<text x="68.7" y="507" font-size="10" fill="#000" textLength="45" lengthAdjust="spacingAndGlyphs" stroke="#000" stroke-width="0.25">7 Jun 2020</text>
<rect x="134" y="495" width="1" height="3" fill="#000"/>
<text x="132.7" y="507" font-size="10" fill="#000" textLength="50" lengthAdjust="spacingAndGlyphs" stroke="#000" stroke-width="0.25">16 Jun 2020</text>
<rect x="198" y="495" width="1" height="3" fill="#000"/>
<text x="196.7" y="507" font-size="10" fill="#000" textLength="50" lengthAdjust="spacingAndGlyphs" stroke="#000" stroke-width="0.25">25 Jun 2020</text>
<rect x="262" y="495" width="1" height="3" fill="#000"/>
<text x="260.7" y="507" font-size="10" fill="#000" textLength="42.5" lengthAdjust="spacingAndGlyphs" stroke="#000" stroke-width="0.25">5 Jul 2020</text>
<rect x="326" y="495" width="1" height="3" fill="#000"/>
<text x="324.7" y="507" font-size="10" fill="#000" textLength="47.5" lengthAdjust="spacingAndGlyphs" stroke="#000" stroke-width="0.25">14 Jul 2020</text>
<rect x="390" y="495" width="1" height="3" fill="#000"/>
<text x="388.7" y="507" font-size="10" fill="#000" textLength="47.5" lengthAdjust="spacingAndGlyphs" stroke="#000" stroke-width="0.25">23 Jul 2020</text>
<rect x="454" y="495" width="1" height="3" fill="#000"/>
<text x="452.7" y="507" font-size="10" fill="#000" textLength="47.7" lengthAdjust="spacingAndGlyphs" stroke="#000" stroke-width="0.25">2 Aug 2020</text>
<rect x="518" y="495" width="1" height="3" fill="#000"/>
<text x="516.7" y="507" font-size="10" fill="#000" textLength="53" lengthAdjust="spacingAndGlyphs" stroke="#000" stroke-width="0.25">11 Aug 2020</text>
<rect x="582" y="495" width="1" height="3" fill="#000"/>
<text x="580.7" y="507" font-size="10" fill="#000" textLength="53.3" lengthAdjust="spacingAndGlyphs" stroke="#000" stroke-width="0.25">20 Aug 2020</text>
<rect x="646" y="495" width="1" height="3" fill="#000"/>
<text x="644.7" y="507" font-size="10" fill="#000" textLength="53.2" lengthAdjust="spacingAndGlyphs" stroke="#000" stroke-width="0.25">30 Aug 2020</text>
<rect x="710" y="495" width="1" height="3" fill="#000"/>
<text x="708.7" y="507" font-size="10" fill="#000" textLength="47.5" lengthAdjust="spacingAndGlyphs" stroke="#000" stroke-width="0.25">8 Sep 2020</text>
<rect x="774" y="495" width="1" height="3" fill="#000"/>
<text x="772.7" y="507" font-size="10" fill="#000" textLength="52" lengthAdjust="spacingAndGlyphs" stroke="#000" stroke-width="0.25">17 Sep 2020</text>
<rect x="838" y="495" width="1" height="3" fill="#000"/>
<text x="836.7" y="507" font-size="10" fill="#000" textLength="52.1" lengthAdjust="spacingAndGlyphs" stroke="#000" stroke-width="0.25">27 Sep 2020</text>
<rect x="902" y="495" width="1" height="3" fill="#000"/>
<text x="900.7" y="507" font-size="10" fill="#000" textLength="46" lengthAdjust="spacingAndGlyphs" stroke="#000" stroke-width="0.25">6 Oct 2020</text>
<rect x="3" y="515" width="1209" height="1" fill="#e3e3e3"/>
<rect x="0" y="517" width="1212" height="1" fill="#000"/>
<rect x="0" y="518" width="1212" height="19" fill="#f0f0f0"/>
<rect x="0" y="536" width="1212" height="1" fill="#e3e3e3"/>
<rect x="0" y="537" width="1212" height="1" fill="#ffffff"/>
<rect x="0" y="538" width="1212" height="2" fill="#f0f0f0"/>
<rect x="0" y="515" width="1" height="22" fill="#ffffff"/>
<rect x="1" y="517" width="1" height="19" fill="#a0a0a0"/>
<rect x="2" y="518" width="1" height="18" fill="#696969"/>
<rect x="331" y="516" width="109" height="20" fill="#ffffff"/>
<rect x="331" y="517" width="1" height="19" fill="#000"/>
<rect x="439" y="517" width="1" height="19" fill="#000"/>
<rect x="331" y="535" width="109" height="1" fill="#000"/>
<text x="19" y="532" font-size="12.5" fill="#6d6d6d" textLength="84" lengthAdjust="spacingAndGlyphs">EURUSD-,Daily</text>
<text x="126" y="532" font-size="12.5" fill="#6d6d6d" textLength="86" lengthAdjust="spacingAndGlyphs">AUDUSD-,Daily</text>
<text x="236" y="532" font-size="12.5" fill="#6d6d6d" textLength="83" lengthAdjust="spacingAndGlyphs">USDCHF-,Daily</text>
<text x="342" y="532" font-size="12.5" fill="#000" textLength="86" lengthAdjust="spacingAndGlyphs">USDCAD-,Daily</text>
<text x="452" y="532" font-size="12.5" fill="#6d6d6d" textLength="87" lengthAdjust="spacingAndGlyphs">USDCNH-,Daily</text>
<rect x="115" y="520" width="1" height="14" fill="#404040"/>
<rect x="223" y="520" width="1" height="14" fill="#404040"/>
<rect x="551" y="520" width="1" height="14" fill="#404040"/>
<path d="M1187,522.5 L1183.5,526 L1187,529.5 Z" fill="#888"/>
<path d="M1203,522.5 L1206.5,526 L1203,529.5 Z" fill="#888"/>
</svg>
</body></html>
